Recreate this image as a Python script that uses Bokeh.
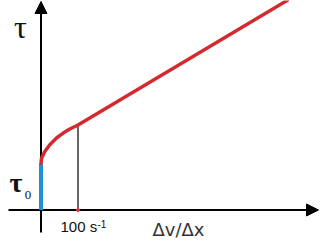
from bokeh.plotting import figure
from bokeh.models import Range1d, Arrow, NormalHead
from bokeh.core.properties import value
from bokeh.embed import file_html
from bokeh.resources import INLINE

# ---- data ----
shear_rate = [0, 1.4, 10.3, 23.8, 41.9, 60, 77.8, 100, 666]
shear_stress = [10.4, 11.5, 13.0, 14.5, 16.0, 17.1, 18.0, 18.9, 46.6]
yield_stress = 10.4
marker_rate = 100
marker_stress = 18.9
marker_label = "100 s"
marker_exp = "-1"
x_label = "\u0394v/\u0394x"
y_label = "\u03c4"
yield_label = "\u03c4"
yield_sub = "0"

# ---- layout helpers (pixel -> data) ----
KX, X0 = 0.37, 40.5      # px per unit, origin pixel x
KY, Y0 = 4.5, 209.5      # px per unit, origin pixel y (from top)
W, H = 320, 240

def px_x(px):
    return (px - X0) / KX

def px_y(py):
    return (Y0 - py) / KY

p = figure(width=W, height=H, x_range=Range1d(px_x(0), px_x(W)),
           y_range=Range1d(px_y(H), px_y(0)), min_border=0,
           toolbar_location=None, output_backend="svg",
           x_axis_location=None, y_axis_location=None)
p.grid.visible = False
p.outline_line_color = None
p.background_fill_color = "white"
p.border_fill_color = "white"

# axes with arrow heads (drawn beneath the curves)
p.add_layout(Arrow(end=NormalHead(size=12, fill_color="black", line_color="black", line_width=1),
                   x_start=px_x(8), y_start=0, x_end=px_x(318), y_end=0,
                   line_color="black", line_width=2, level="underlay"))
p.add_layout(Arrow(end=NormalHead(size=12, fill_color="black", line_color="black", line_width=1),
                   x_start=0, y_start=px_y(232), x_end=0, y_end=px_y(1),
                   line_color="black", line_width=2, level="underlay"))

# marker vertical line
p.segment(x0=[marker_rate], y0=[0], x1=[marker_rate], y1=[marker_stress],
          line_color="black", line_width=1.2)
p.scatter(x=[marker_rate], y=[0], size=3, color="#d9333a")

# yield stress segment
p.segment(x0=[0], y0=[0], x1=[0], y1=[yield_stress], line_color="#1f8fdc",
          line_width=4)

# flow curve
p.line(shear_rate, shear_stress, line_color="#d42a2f", line_width=3.5,
       line_cap="round", line_join="round")

# texts (anchored at their visual middle)
def label(px, py, txt, font, size, style="normal", color="#111111", align="center"):
    p.text(x=[px_x(px)], y=[px_y(py)], text=[txt], text_align=align,
           text_baseline="middle", text_font=value(font),
           text_font_size=size, text_font_style=style, text_color=color)

label(20, 26.5, y_label, "Liberation Serif", "32px")
label(15.5, 181.5, yield_label, "Liberation Serif", "28px", style="bold")
label(27.5, 194, yield_sub, "Liberation Serif", "13px")
label(60, 226, marker_label, "Liberation Sans", "15px", align="left")
label(97, 223, marker_exp, "Liberation Sans", "10px", align="left")
label(152, 229, x_label, "DejaVu Sans", "18px", color="#333333", align="left")

open("out.html", "w").write(file_html(p, INLINE))
